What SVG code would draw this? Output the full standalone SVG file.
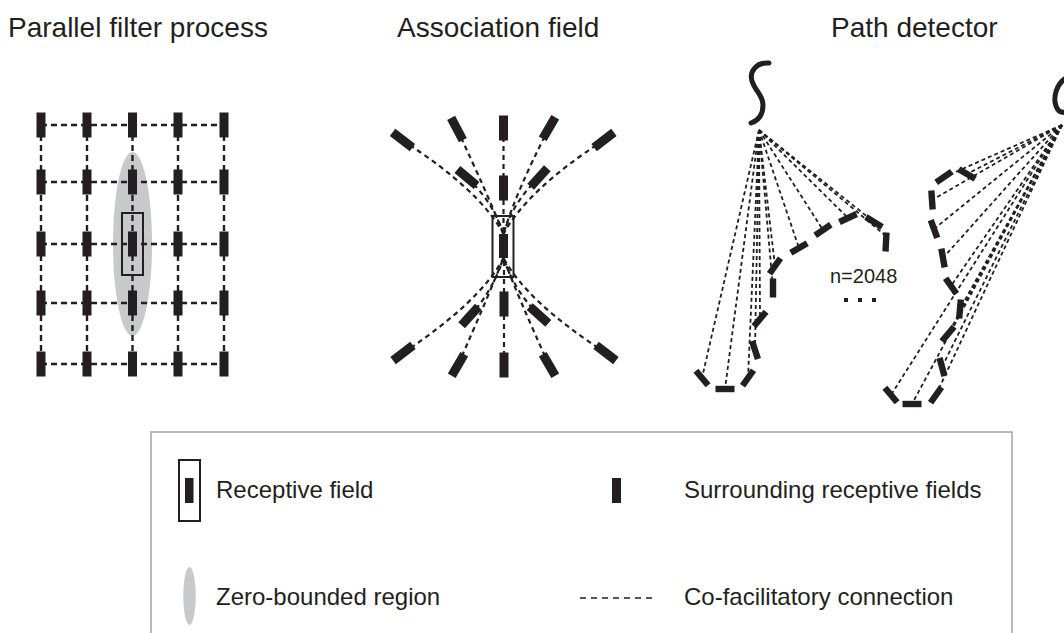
<svg xmlns="http://www.w3.org/2000/svg" xmlns:xlink="http://www.w3.org/1999/xlink" width="1064" height="633" viewBox="0 0 1064 633">
<style>
text{font-family:"Liberation Sans",Arial,sans-serif;fill:#231f20}
.title{font-size:28px}
.leg{font-size:24px}
.grid{stroke:#231f20;stroke-width:2.4;stroke-dasharray:6 4;fill:none}
.af{stroke:#231f20;stroke-width:2.2;stroke-dasharray:5 4;fill:none}
.pd{stroke:#231f20;stroke-width:1.8;stroke-dasharray:4 3;fill:none}
.bar{fill:#231f20}
.rf{fill:none;stroke:#231f20;stroke-width:2}
.sq{fill:none;stroke:#231f20;stroke-width:5;stroke-linecap:round}
</style>
<defs>
<rect id="b" class="bar" x="-4.5" y="-12.5" width="9" height="25"/>
<rect id="s" class="bar" x="-3.2" y="-9.5" width="6.4" height="19"/>
</defs>
<rect width="1064" height="633" fill="#fff"/>

<g id="titles">
<text class="title" x="8" y="37">Parallel filter process</text>
<text class="title" x="397" y="37">Association field</text>
<text class="title" x="831" y="37">Path detector</text>
</g>

<!-- Panel 1: parallel filter -->
<g id="zero-bounded-region">
<ellipse cx="132.5" cy="244" rx="19.5" ry="92" fill="#c8c9cb"/>
</g>
<g id="grid-connectors">
<line class="grid" x1="41" y1="125" x2="224" y2="125"/>
<line class="grid" x1="41" y1="182" x2="224" y2="182"/>
<line class="grid" x1="41" y1="244" x2="224" y2="244"/>
<line class="grid" x1="41" y1="303" x2="224" y2="303"/>
<line class="grid" x1="41" y1="364" x2="224" y2="364"/>
<line class="grid" x1="41" y1="125" x2="41" y2="364"/>
<line class="grid" x1="87" y1="125" x2="87" y2="364"/>
<line class="grid" x1="132.5" y1="125" x2="132.5" y2="364"/>
<line class="grid" x1="178" y1="125" x2="178" y2="364"/>
<line class="grid" x1="224" y1="125" x2="224" y2="364"/>
</g>
<g id="grid-fields">
<use id="g11" xlink:href="#b" href="#b" transform="translate(41,125)"/>
<use id="g12" xlink:href="#b" href="#b" transform="translate(87,125)"/>
<use id="g13" xlink:href="#b" href="#b" transform="translate(132.5,125)"/>
<use id="g14" xlink:href="#b" href="#b" transform="translate(178,125)"/>
<use id="g15" xlink:href="#b" href="#b" transform="translate(224,125)"/>
<use id="g21" xlink:href="#b" href="#b" transform="translate(41,182)"/>
<use id="g22" xlink:href="#b" href="#b" transform="translate(87,182)"/>
<use id="g23" xlink:href="#b" href="#b" transform="translate(132.5,182)"/>
<use id="g24" xlink:href="#b" href="#b" transform="translate(178,182)"/>
<use id="g25" xlink:href="#b" href="#b" transform="translate(224,182)"/>
<use id="g31" xlink:href="#b" href="#b" transform="translate(41,244)"/>
<use id="g32" xlink:href="#b" href="#b" transform="translate(87,244)"/>
<use id="g33" xlink:href="#b" href="#b" transform="translate(132.5,244)"/>
<use id="g34" xlink:href="#b" href="#b" transform="translate(178,244)"/>
<use id="g35" xlink:href="#b" href="#b" transform="translate(224,244)"/>
<use id="g41" xlink:href="#b" href="#b" transform="translate(41,303)"/>
<use id="g42" xlink:href="#b" href="#b" transform="translate(87,303)"/>
<use id="g43" xlink:href="#b" href="#b" transform="translate(132.5,303)"/>
<use id="g44" xlink:href="#b" href="#b" transform="translate(178,303)"/>
<use id="g45" xlink:href="#b" href="#b" transform="translate(224,303)"/>
<use id="g51" xlink:href="#b" href="#b" transform="translate(41,364)"/>
<use id="g52" xlink:href="#b" href="#b" transform="translate(87,364)"/>
<use id="g53" xlink:href="#b" href="#b" transform="translate(132.5,364)"/>
<use id="g54" xlink:href="#b" href="#b" transform="translate(178,364)"/>
<use id="g55" xlink:href="#b" href="#b" transform="translate(224,364)"/>
</g>
<g id="grid-receptive-field">
<rect class="rf" x="122" y="213" width="21" height="62"/>
</g>

<!-- Panel 2: association field -->
<g id="af-connectors">
<path class="af" d="M503.5,128 L503.5,234"/>
<path class="af" d="M402,140 Q480,190 503.5,234"/>
<path class="af" d="M457,129 Q488,195 503.5,234"/>
<path class="af" d="M467,178 Q492,200 503.5,234"/>
<path class="af" d="M549,128 Q516,192 503.5,234"/>
<path class="af" d="M604,140 Q527,190 503.5,234"/>
<path class="af" d="M539,178 Q514,200 503.5,234"/>
<path class="af" d="M504,365 L504,258"/>
<path class="af" d="M403,353 Q480,302 503.5,258"/>
<path class="af" d="M458,365 Q488,297 503.5,258"/>
<path class="af" d="M470,316 Q492,292 503.5,258"/>
<path class="af" d="M539,315 Q515,292 503.5,258"/>
<path class="af" d="M549,365 Q518,297 503.5,258"/>
<path class="af" d="M606,353 Q527,302 503.5,258"/>
</g>
<g id="af-fields">
<use id="a1" href="#b" transform="translate(503.5,128)"/>
<use id="a2" href="#b" transform="translate(503.5,188)"/>
<use id="a3" href="#b" transform="translate(504,304)"/>
<use id="a4" href="#b" transform="translate(504,365)"/>
<use id="a5" href="#b" transform="translate(402.5,140) rotate(-52.5)"/>
<use id="a6" href="#b" transform="translate(457,129) rotate(-28)"/>
<use id="a7" href="#b" transform="translate(467,177.5) rotate(-50)"/>
<use id="a8" href="#b" transform="translate(549,128) rotate(30)"/>
<use id="a9" href="#b" transform="translate(604,140) rotate(52.5)"/>
<use id="a10" href="#b" transform="translate(539,177.5) rotate(42)"/>
<use id="a11" href="#b" transform="translate(470,316) rotate(42)"/>
<use id="a12" href="#b" transform="translate(539,315) rotate(-48)"/>
<use id="a13" href="#b" transform="translate(403,353) rotate(52.5)"/>
<use id="a14" href="#b" transform="translate(458,365) rotate(30)"/>
<use id="a15" href="#b" transform="translate(549,365) rotate(-30)"/>
<use id="a16" href="#b" transform="translate(606,353) rotate(-52.5)"/>
</g>
<g id="af-receptive-field">
<rect class="rf" x="492.5" y="216" width="21" height="61" stroke-width="1.6"/>
<rect class="bar" x="499" y="234" width="9" height="24"/>
</g>

<!-- Panel 3: path detector -->
<g id="pd-connectors">
<line class="pd" x1="759" y1="130" x2="874" y2="222"/>
<line class="pd" x1="759" y1="130" x2="848" y2="218"/>
<line class="pd" x1="759" y1="130" x2="886" y2="236"/>
<line class="pd" x1="759" y1="130" x2="823" y2="230"/>
<line class="pd" x1="759" y1="130" x2="799" y2="248"/>
<line class="pd" x1="759" y1="130" x2="775" y2="266"/>
<line class="pd" x1="759" y1="130" x2="773" y2="288"/>
<line class="pd" x1="759" y1="130" x2="760" y2="319"/>
<line class="pd" x1="759" y1="130" x2="755" y2="350"/>
<line class="pd" x1="759" y1="130" x2="702" y2="378"/>
<line class="pd" x1="759" y1="130" x2="725" y2="389"/>
<line class="pd" x1="759" y1="130" x2="748" y2="378"/>
<line class="pd" x1="1062" y1="125" x2="944" y2="177"/>
<line class="pd" x1="1062" y1="125" x2="967" y2="174"/>
<line class="pd" x1="1062" y1="125" x2="932" y2="200"/>
<line class="pd" x1="1062" y1="125" x2="934" y2="229"/>
<line class="pd" x1="1062" y1="125" x2="943" y2="258"/>
<line class="pd" x1="1062" y1="125" x2="951" y2="286"/>
<line class="pd" x1="1062" y1="125" x2="960" y2="309"/>
<line class="pd" x1="1062" y1="125" x2="948" y2="334"/>
<line class="pd" x1="1062" y1="125" x2="942" y2="367"/>
<line class="pd" x1="1062" y1="125" x2="891" y2="395"/>
<line class="pd" x1="1062" y1="125" x2="912" y2="404"/>
<line class="pd" x1="1062" y1="125" x2="936" y2="395"/>
</g>
<g id="pd-path-left">
<path class="sq" d="M769,63 C757,62 749,71 752,81 C755,91 763,95 763,105 C763,116 757,121 751,123"/>
</g>
<g id="pd-path-right">
<path class="sq" d="M1066,78 C1056,84 1053,98 1056,106 C1058,112 1062,113 1066,112"/>
</g>
<g id="pd-fields-left">
<use id="p1" href="#s" transform="translate(874,222) rotate(-59)"/>
<use id="p2" href="#s" transform="translate(848,218) rotate(65)"/>
<use id="p3" href="#s" transform="translate(886,242) rotate(3)"/>
<use id="p4" href="#s" transform="translate(823,230) rotate(55)"/>
<use id="p5" href="#s" transform="translate(799,248) rotate(60)"/>
<use id="p6" href="#s" transform="translate(775,266) rotate(35)"/>
<use id="p7" href="#s" transform="translate(773,288)"/>
<use id="p8" href="#s" transform="translate(760,319) rotate(40)"/>
<use id="p9" href="#s" transform="translate(755,350) rotate(-18)"/>
<use id="p10" href="#s" transform="translate(702,378) rotate(-40)"/>
<use id="p11" href="#s" transform="translate(725,389) rotate(90)"/>
<use id="p12" href="#s" transform="translate(748,378) rotate(35)"/>
</g>
<g id="pd-fields-right">
<use id="q1" href="#s" transform="translate(944,177) rotate(55)"/>
<use id="q2" href="#s" transform="translate(967,174) rotate(-60)"/>
<use id="q3" href="#s" transform="translate(932,200) rotate(-4)"/>
<use id="q4" href="#s" transform="translate(934,229) rotate(-20)"/>
<use id="q5" href="#s" transform="translate(943,258) rotate(-10)"/>
<use id="q6" href="#s" transform="translate(951,286) rotate(-35)"/>
<use id="q7" href="#s" transform="translate(960,309) rotate(5)"/>
<use id="q8" href="#s" transform="translate(948,334) rotate(40)"/>
<use id="q9" href="#s" transform="translate(942,367) rotate(-15)"/>
<use id="q10" href="#s" transform="translate(891,395) rotate(-40)"/>
<use id="q11" href="#s" transform="translate(912,404) rotate(90)"/>
<use id="q12" href="#s" transform="translate(936,395) rotate(35)"/>
</g>
<g id="pd-count">
<text x="830" y="283" font-size="20">n=2048</text>
<rect class="bar" x="844" y="298" width="4" height="4"/>
<rect class="bar" x="858" y="298" width="4" height="4"/>
<rect class="bar" x="872" y="298" width="4" height="4"/>
</g>

<!-- Legend -->
<g id="legend">
<rect x="151" y="432" width="861" height="230" fill="none" stroke="#a9a9a9" stroke-width="1.6"/>
<g id="legend-receptive-field">
<rect class="rf" x="179" y="460" width="21" height="61" stroke-width="1.6"/>
<rect class="bar" x="185" y="478" width="8.5" height="25"/>
<text class="leg" x="216" y="498">Receptive field</text>
</g>
<g id="legend-zero-bounded">
<ellipse cx="189.5" cy="596" rx="6.2" ry="29" fill="#c8c9cb"/>
<text class="leg" x="216" y="605">Zero-bounded region</text>
</g>
<g id="legend-surrounding">
<rect class="bar" x="612" y="478" width="9" height="25"/>
<text class="leg" x="684" y="498">Surrounding receptive fields</text>
</g>
<g id="legend-connection">
<line x1="580" y1="598" x2="652" y2="598" stroke="#231f20" stroke-width="1.6" stroke-dasharray="6 5"/>
<text class="leg" x="684" y="605">Co-facilitatory connection</text>
</g>
</g>
</svg>
